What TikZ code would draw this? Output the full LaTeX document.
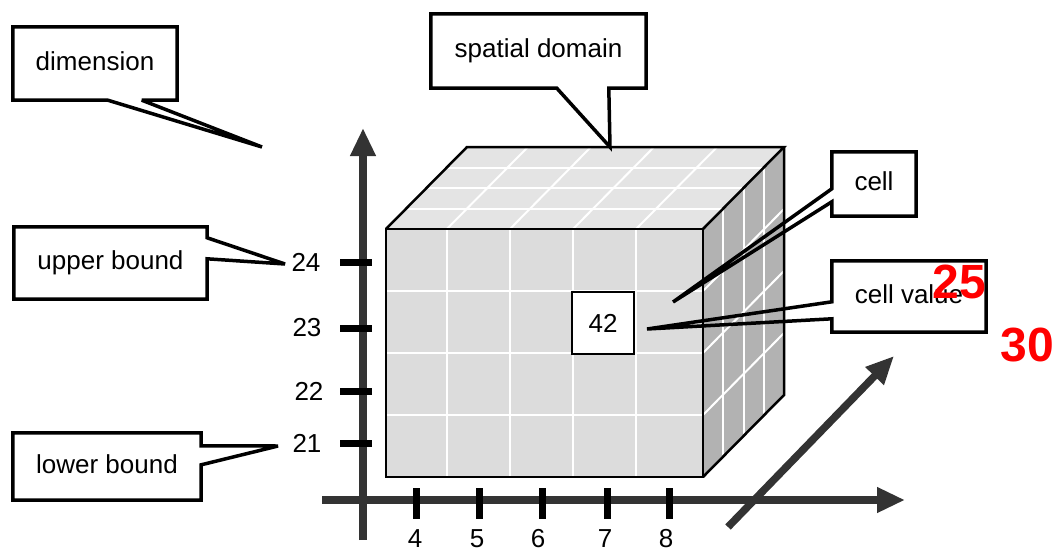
\documentclass[tikz,border=0pt]{standalone}
\usepackage{fontspec}
\setmainfont{Liberation Sans}
\usetikzlibrary{arrows.meta,calc}
\definecolor{axgray}{HTML}{333333}
\definecolor{frontgray}{HTML}{DCDCDC}
\definecolor{topgray}{HTML}{E4E4E4}
\definecolor{sidegray}{HTML}{B2B2B2}
\definecolor{numred}{HTML}{FF0000}
\begin{document}
\begin{tikzpicture}[x=1pt,y=-1pt,
  callout/.style={draw=black,line width=3.5pt,miter limit=4,line join=miter},
  cbox/.style={fill=white,inner sep=0pt,text height=19pt,text depth=5.5pt,font=\fontsize{26}{30}\selectfont},
  lbl/.style={font=\fontsize{26}{30}\selectfont,inner sep=0pt},
  axisarrow/.style={draw=axgray,line width=7.5pt,-{Triangle[length=28pt,width=24pt]}},
  tickmark/.style={draw=black,line width=7pt},
  gridline/.style={draw=white,line width=2pt},
  edge/.style={draw=black,line width=2.5pt,line join=miter},
  bignum/.style={text=numred,font=\fontsize{48}{54}\selectfont\bfseries,inner sep=0pt}]
\useasboundingbox (0,0) rectangle (1063,552);

% axes
\coordinate (yb) at (363,540);
\coordinate (yt) at (363,128);
\coordinate (xb) at (322,500);
\coordinate (xt) at (905,500);
\coordinate (zb) at (728,527);
\coordinate (zt) at (894,356);
\draw[axisarrow] (yb) -- (yt);
\draw[axisarrow] (xb) -- (xt);
\draw[axisarrow] (zb) -- (zt);

% ticks on vertical axis
\foreach \y in {262,328,391,443} \draw[tickmark] (340,\y) -- (372,\y);
% ticks on horizontal axis
\foreach \x in {416,479,542,607,669} \draw[tickmark] (\x,488) -- (\x,519);

% tick labels
\node[lbl] (l24) at (306,262) {24};
\node[lbl] (l23) at (307,328) {23};
\node[lbl] (l22) at (309,391) {22};
\node[lbl] (l21) at (307,443) {21};
\node[lbl] (l4) at (415,539) {4};
\node[lbl] (l5) at (477,539) {5};
\node[lbl] (l6) at (538,539) {6};
\node[lbl] (l7) at (605,539) {7};
\node[lbl] (l8) at (666,539) {8};

% cube
\coordinate (A) at (386,477);
\coordinate (B) at (703,477);
\coordinate (C) at (703,229);
\coordinate (D) at (386,229);
\coordinate (E) at (467,147);
\coordinate (F) at (784,147);
\coordinate (G) at (784,395);
\fill[frontgray] (A) -- (B) -- (C) -- (D) -- cycle;
\fill[topgray] (D) -- (C) -- (F) -- (E) -- cycle;
\fill[sidegray] (B) -- (G) -- (F) -- (C) -- cycle;
\foreach \f in {0.192,0.391,0.590,0.789} {
  \draw[gridline] ($(A)!\f!(B)$) -- ($(D)!\f!(C)$);
  \draw[gridline] ($(D)!\f!(C)$) -- ($(E)!\f!(F)$);
}
\foreach \j in {1,2,3} {
  \draw[gridline] ($(A)!\j/4!(D)$) -- ($(B)!\j/4!(C)$);
  \draw[gridline] ($(D)!\j/4!(E)$) -- ($(C)!\j/4!(F)$);
  \draw[gridline] ($(B)!\j/4!(G)$) -- ($(C)!\j/4!(F)$);
  \draw[gridline] ($(B)!\j/4!(C)$) -- ($(G)!\j/4!(F)$);
}
\draw[edge] (A) -- (B) -- (C) -- (D) -- cycle;
\draw[edge] (D) -- (E) -- (F) -- (C);
\draw[edge] (B) -- (G) -- (F);

% cell value box
\node[draw=black,line width=1.5pt,fill=white,minimum width=62pt,minimum height=62pt,inner sep=0pt,
      font=\fontsize{26}{30}\selectfont] (v42) at (603,323) {42};

% callout boxes
\node[cbox,minimum width=164pt,minimum height=73pt] (dim) at (95,63.5) {dimension};
\node[cbox,minimum width=215pt,minimum height=74pt] (spat) at (538.5,51) {spatial domain};
\node[cbox,minimum width=193pt,minimum height=72pt] (upper) at (110.5,263) {upper bound};
\node[cbox,minimum width=188pt,minimum height=67pt] (lower) at (107,466.5) {lower bound};
\node[cbox,minimum width=84pt,minimum height=64pt] (cell) at (874,184) {cell};
\node[cbox,minimum width=154pt,minimum height=71pt] (cval) at (909,296.5) {cell value};

% callout tips
\coordinate (dimtip) at (262,147);
\coordinate (spattip) at (610,147);
\coordinate (uppertip) at (285,264);
\coordinate (lowertip) at (278,446);
\coordinate (celltip) at (673,302);
\coordinate (cvaltip) at (647,329);

% callout outlines
\draw[callout] ($(dim.south west)+(95,0)$) -- (dimtip) -- ($(dim.south west)+(129,0)$)
  -- (dim.south east) -- (dim.north east) -- (dim.north west) -- (dim.south west) -- cycle;
\draw[callout] ($(spat.south west)+(126,0)$) -- (spattip) -- ($(spat.south west)+(178,0)$)
  -- (spat.south east) -- (spat.north east) -- (spat.north west) -- (spat.south west) -- cycle;
\draw[callout] ($(upper.north east)+(0,11)$) -- (uppertip) -- ($(upper.north east)+(0,32)$)
  -- (upper.south east) -- (upper.south west) -- (upper.north west) -- (upper.north east) -- cycle;
\draw[callout] ($(lower.north east)+(0,13)$) -- (lowertip) -- ($(lower.north east)+(0,32)$)
  -- (lower.south east) -- (lower.south west) -- (lower.north west) -- (lower.north east) -- cycle;
\draw[callout] ($(cell.north west)+(0,37)$) -- (celltip) -- ($(cell.north west)+(0,50)$)
  -- (cell.south west) -- (cell.south east) -- (cell.north east) -- (cell.north west) -- cycle;
\draw[callout] ($(cval.north west)+(0,41)$) -- (cvaltip) -- ($(cval.north west)+(0,58)$)
  -- (cval.south west) -- (cval.south east) -- (cval.north east) -- (cval.north west) -- cycle;

% red numbers
\node[bignum] (n25) at (959,282) {25};
\node[bignum] (n30) at (1027,345) {30};
\end{tikzpicture}
\end{document}
